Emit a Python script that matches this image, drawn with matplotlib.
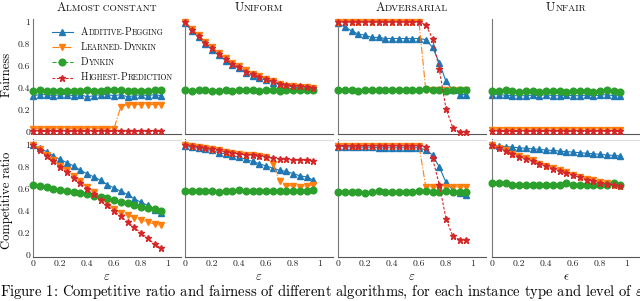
import matplotlib
matplotlib.use("Agg")
import matplotlib.pyplot as plt
from matplotlib.lines import Line2D
from matplotlib.offsetbox import TextArea, HPacker, VPacker, DrawingArea, AnchoredOffsetbox

plt.rcParams["font.family"] = "serif"
plt.rcParams["font.serif"] = ["cmr10"]
plt.rcParams["mathtext.fontset"] = "cm"
plt.rcParams["axes.formatter.use_mathtext"] = True

# epsilon levels
eps = [0.0, 0.05, 0.1, 0.15, 0.2, 0.25, 0.3, 0.35, 0.4, 0.45,
       0.5, 0.55, 0.6, 0.65, 0.7, 0.75, 0.8, 0.85, 0.9, 0.95]

instances = ["Almost constant", "Uniform", "Adversarial", "Unfair"]
algorithms = ["Additive-Pegging", "Learned-Dynkin", "Dynkin", "Highest-Prediction"]

# ---- fairness ----
ap_fair_const = [0.33, 0.34, 0.34, 0.33, 0.34, 0.34, 0.33, 0.34, 0.32, 0.33,
                 0.34, 0.34, 0.33, 0.34, 0.32, 0.33, 0.34, 0.33, 0.34, 0.33]
ld_fair_const = [0.03, 0.03, 0.03, 0.03, 0.03, 0.03, 0.03, 0.03, 0.03, 0.03,
                 0.03, 0.03, 0.03, 0.23, 0.25, 0.25, 0.25, 0.25, 0.25, 0.25]
dyn_fair_const = [0.37, 0.38, 0.37, 0.37, 0.37, 0.37, 0.37, 0.37, 0.38, 0.37,
                  0.37, 0.38, 0.38, 0.38, 0.37, 0.37, 0.37, 0.37, 0.38, 0.38]
hp_fair_const = [0.01, 0.01, 0.01, 0.01, 0.01, 0.01, 0.01, 0.01, 0.01, 0.01,
                 0.01, 0.01, 0.01, 0.01, 0.01, 0.01, 0.01, 0.01, 0.01, 0.01]

ap_fair_unif = [0.99, 0.92, 0.86, 0.80, 0.75, 0.70, 0.65, 0.61, 0.58, 0.54,
                0.51, 0.49, 0.47, 0.45, 0.43, 0.42, 0.41, 0.40, 0.40, 0.39]
ld_fair_unif = [1.00, 0.94, 0.88, 0.82, 0.77, 0.72, 0.67, 0.63, 0.60, 0.56,
                0.53, 0.51, 0.48, 0.46, 0.44, 0.42, 0.42, 0.41, 0.41, 0.40]
dyn_fair_unif = [0.38, 0.37, 0.38, 0.38, 0.37, 0.37, 0.38, 0.37, 0.38, 0.38,
                 0.38, 0.37, 0.38, 0.38, 0.37, 0.38, 0.38, 0.38, 0.38, 0.38]
hp_fair_unif = [1.00, 0.93, 0.87, 0.81, 0.76, 0.71, 0.66, 0.62, 0.59, 0.55,
                0.53, 0.50, 0.48, 0.46, 0.44, 0.43, 0.42, 0.415, 0.41, 0.40]

ap_fair_adv = [0.99, 0.955, 0.92, 0.89, 0.88, 0.86, 0.86, 0.85, 0.85, 0.85,
               0.85, 0.85, 0.85, 0.84, 0.77, 0.63, 0.46, 0.38, 0.34, 0.34]
ld_fair_adv = [1.00, 1.00, 1.00, 1.00, 1.00, 1.00, 1.00, 1.00, 1.00, 1.00,
               1.00, 1.00, 1.00, 0.38, 0.38, 0.38, 0.38, 0.38, 0.38, 0.38]
dyn_fair_adv = [0.38, 0.38, 0.38, 0.37, 0.38, 0.38, 0.38, 0.38, 0.38, 0.38,
                0.38, 0.38, 0.38, 0.39, 0.38, 0.38, 0.37, 0.38, 0.38, 0.38]
hp_fair_adv = [1.00, 1.00, 1.00, 1.00, 1.00, 1.00, 1.00, 1.00, 1.00, 1.00,
               1.00, 1.00, 1.00, 0.975, 0.85, 0.57, 0.21, 0.04, 0.0, 0.0]

ap_fair_unfair = [0.34, 0.34, 0.335, 0.33, 0.33, 0.33, 0.335, 0.33, 0.34, 0.33,
                  0.33, 0.335, 0.33, 0.33, 0.335, 0.33, 0.335, 0.34, 0.33, 0.33]
ld_fair_unfair = [0.02, 0.015, 0.015, 0.015, 0.015, 0.015, 0.015, 0.015, 0.015, 0.015,
                  0.015, 0.015, 0.015, 0.015, 0.015, 0.015, 0.015, 0.015, 0.015, 0.015]
dyn_fair_unfair = [0.37, 0.37, 0.38, 0.37, 0.36, 0.37, 0.37, 0.36, 0.37, 0.37,
                   0.37, 0.36, 0.37, 0.37, 0.37, 0.36, 0.37, 0.38, 0.37, 0.36]
hp_fair_unfair = [0.005, 0.005, 0.005, 0.005, 0.005, 0.005, 0.005, 0.005, 0.005, 0.005,
                  0.005, 0.005, 0.005, 0.005, 0.005, 0.005, 0.005, 0.005, 0.005, 0.005]

# ---- competitive ratio ----
ap_cr_const = [1.00, 0.97, 0.94, 0.90, 0.87, 0.84, 0.81, 0.77, 0.74, 0.71,
               0.68, 0.64, 0.61, 0.58, 0.55, 0.51, 0.48, 0.45, 0.41, 0.38]
ld_cr_const = [1.00, 0.96, 0.91, 0.86, 0.81, 0.77, 0.72, 0.67, 0.62, 0.57,
               0.52, 0.47, 0.42, 0.38, 0.36, 0.34, 0.32, 0.30, 0.28, 0.27]
dyn_cr_const = [0.64, 0.63, 0.62, 0.60, 0.59, 0.58, 0.57, 0.56, 0.55, 0.54,
                0.53, 0.52, 0.50, 0.48, 0.47, 0.45, 0.44, 0.43, 0.42, 0.40]
hp_cr_const = [1.00, 0.95, 0.90, 0.85, 0.80, 0.75, 0.70, 0.65, 0.60, 0.55,
               0.50, 0.45, 0.40, 0.35, 0.30, 0.25, 0.20, 0.15, 0.10, 0.06]

ap_cr_unif = [0.99, 0.98, 0.97, 0.96, 0.95, 0.93, 0.92, 0.90, 0.89, 0.87,
              0.85, 0.83, 0.81, 0.79, 0.77, 0.76, 0.74, 0.72, 0.71, 0.68]
ld_cr_unif = [1.00, 0.99, 0.98, 0.97, 0.96, 0.95, 0.94, 0.93, 0.92, 0.91,
              0.905, 0.90, 0.89, 0.83, 0.67, 0.63, 0.63, 0.62, 0.63, 0.64]
dyn_cr_unif = [0.58, 0.58, 0.58, 0.58, 0.58, 0.57, 0.58, 0.58, 0.59, 0.58,
               0.58, 0.58, 0.58, 0.58, 0.58, 0.58, 0.58, 0.58, 0.58, 0.59]
hp_cr_unif = [1.00, 0.99, 0.98, 0.97, 0.96, 0.95, 0.94, 0.93, 0.92, 0.91,
              0.905, 0.90, 0.89, 0.88, 0.875, 0.87, 0.865, 0.86, 0.86, 0.855]

ap_cr_adv = [0.985, 0.985, 0.98, 0.98, 0.98, 0.98, 0.975, 0.975, 0.975, 0.975,
             0.975, 0.975, 0.975, 0.955, 0.91, 0.80, 0.66, 0.59, 0.56, 0.545]
ld_cr_adv = [0.995, 0.995, 0.995, 0.995, 0.995, 0.995, 0.995, 0.995, 0.995, 0.995,
             0.995, 0.995, 0.995, 0.62, 0.62, 0.62, 0.62, 0.62, 0.62, 0.62]
dyn_cr_adv = [0.575, 0.575, 0.575, 0.57, 0.565, 0.575, 0.58, 0.575, 0.575, 0.575,
              0.57, 0.575, 0.58, 0.58, 0.575, 0.575, 0.58, 0.575, 0.575, 0.57]
hp_cr_adv = [0.995, 0.995, 0.995, 0.995, 0.995, 0.995, 0.995, 0.995, 0.995, 0.995,
             0.995, 0.995, 0.995, 0.985, 0.88, 0.64, 0.33, 0.17, 0.14, 0.14]

ap_cr_unfair = [1.00, 0.99, 0.985, 0.98, 0.975, 0.97, 0.965, 0.96, 0.955, 0.95,
                0.945, 0.94, 0.935, 0.93, 0.925, 0.92, 0.915, 0.91, 0.905, 0.90]
ld_cr_unfair = [1.00, 0.97, 0.95, 0.92, 0.90, 0.88, 0.86, 0.83, 0.81, 0.79,
                0.77, 0.75, 0.73, 0.71, 0.69, 0.68, 0.66, 0.65, 0.64, 0.63]
dyn_cr_unfair = [0.65, 0.65, 0.65, 0.64, 0.64, 0.64, 0.64, 0.64, 0.64, 0.64,
                 0.64, 0.65, 0.64, 0.64, 0.64, 0.64, 0.64, 0.64, 0.65, 0.64]
hp_cr_unfair = [1.00, 0.97, 0.945, 0.92, 0.895, 0.875, 0.855, 0.83, 0.805, 0.785,
                0.765, 0.745, 0.725, 0.705, 0.685, 0.67, 0.655, 0.645, 0.635, 0.625]

fairness = [
    [ap_fair_const, ld_fair_const, dyn_fair_const, hp_fair_const],
    [ap_fair_unif, ld_fair_unif, dyn_fair_unif, hp_fair_unif],
    [ap_fair_adv, ld_fair_adv, dyn_fair_adv, hp_fair_adv],
    [ap_fair_unfair, ld_fair_unfair, dyn_fair_unfair, hp_fair_unfair],
]
comp_ratio = [
    [ap_cr_const, ld_cr_const, dyn_cr_const, hp_cr_const],
    [ap_cr_unif, ld_cr_unif, dyn_cr_unif, hp_cr_unif],
    [ap_cr_adv, ld_cr_adv, dyn_cr_adv, hp_cr_adv],
    [ap_cr_unfair, ld_cr_unfair, dyn_cr_unfair, hp_cr_unfair],
]

colors = ["#1f77b4", "#ff7f0e", "#2ca02c", "#d62728"]
styles = ["-", "-.", "--", (0, (2.5, 1.5))]
markers = ["^", "v", "o", "*"]
msizes = [4.2, 4.5, 4.8, 4.5]


def small_caps(text, big, small, color="#111111"):
    runs = []
    for ch in text:
        size = big if ch.isupper() else small
        if runs and runs[-1][1] == size:
            runs[-1][0] += ch.upper()
        else:
            runs.append([ch.upper(), size])
    parts = [TextArea(s, textprops=dict(fontsize=sz, color=color)) for s, sz in runs]
    return HPacker(children=parts, align="baseline", pad=0, sep=0)


def legend_row(i):
    da = DrawingArea(15, 8, 0, 0)
    da.add_artist(Line2D([0, 15], [4, 4], color=colors[i], ls=styles[i], lw=0.8))
    da.add_artist(Line2D([7.5], [4], color=colors[i], marker=markers[i],
                         ms=msizes[i], ls="none"))
    return HPacker(children=[da, small_caps(algorithms[i], 7.1, 5.6)],
                   align="center", pad=0, sep=6)


fig = plt.figure(figsize=(6.4, 3.01), dpi=100)

W, H = 640.0, 301.0
lefts = [33, 185, 338, 492]
ax_w = 148
rows = [(18.7, 134.2), (139.5, 257.2)]

for r in range(2):
    top, bot = rows[r]
    for c in range(4):
        ax = fig.add_axes([lefts[c] / W, 1 - bot / H, ax_w / W, (bot - top) / H])
        data = fairness[c] if r == 0 else comp_ratio[c]
        for k in range(4):
            ax.plot(eps, data[k], color=colors[k], ls=styles[k], lw=0.8,
                    marker=markers[k], ms=msizes[k], zorder=2 + k, clip_on=False)
        ax.set_xlim(0, 1.096)
        if r == 0:
            ax.set_ylim(-0.02, 1.03)
        else:
            ax.set_ylim(-0.02, 1.05)
        ax.set_xticks([0, 0.2, 0.4, 0.6, 0.8, 1.0])
        ax.set_yticks([0, 0.2, 0.4, 0.6, 0.8, 1.0])
        ax.tick_params(length=0, labelsize=7, pad=2, colors="#222222")
        ax.set_yticklabels(["0", "0.2", "0.4", "0.6", "0.8", "1"] if c == 0 else [])
        if r == 1:
            ax.set_xticklabels(["0", "0.2", "0.4", "0.6", "0.8", "1"])
            ax.set_xlabel(r"$\epsilon$" if c == 3 else r"$\varepsilon$",
                          fontsize=9, labelpad=2)
        else:
            ax.set_xticklabels([])
        ax.spines["right"].set_visible(False)
        if r == 0:
            ax.spines["top"].set_visible(False)
        else:
            ax.spines["top"].set_color("#dddddd")
            ax.spines["top"].set_linewidth(0.8)
        ax.spines["left"].set_color("#777777")
        ax.spines["bottom"].set_color("#555555")
        ax.spines["left"].set_linewidth(0.8)
        ax.spines["bottom"].set_linewidth(0.8)

        if r == 0:
            title = AnchoredOffsetbox(loc="lower center", child=small_caps(instances[c], 9, 6.8),
                                      bbox_to_anchor=(0.5, 1.0), bbox_transform=ax.transAxes,
                                      frameon=False, pad=0, borderpad=0.35)
            ax.add_artist(title)
        if r == 0 and c == 0:
            leg = VPacker(children=[legend_row(k) for k in range(4)],
                          align="left", pad=0, sep=3.0)
            box = AnchoredOffsetbox(loc="upper left", child=leg,
                                    bbox_to_anchor=(0.128, 0.935), bbox_transform=ax.transAxes,
                                    frameon=False, pad=0, borderpad=0)
            box.set_zorder(10)
            ax.add_artist(box)

fig.text(7 / W, 1 - 74 / H, "Fairness", rotation=90, ha="center", va="center", fontsize=9)
fig.text(7 / W, 1 - 200 / H, "Competitive ratio", rotation=90, ha="center", va="center",
         fontsize=9)
fig.text(0.0, 1 - 296 / H,
         r"Figure 1: Competitive ratio and fairness of different algorithms, for each instance type and level of $\varepsilon$",
         ha="left", va="baseline", fontsize=10.5)

fig.savefig("out.png", dpi=100)
